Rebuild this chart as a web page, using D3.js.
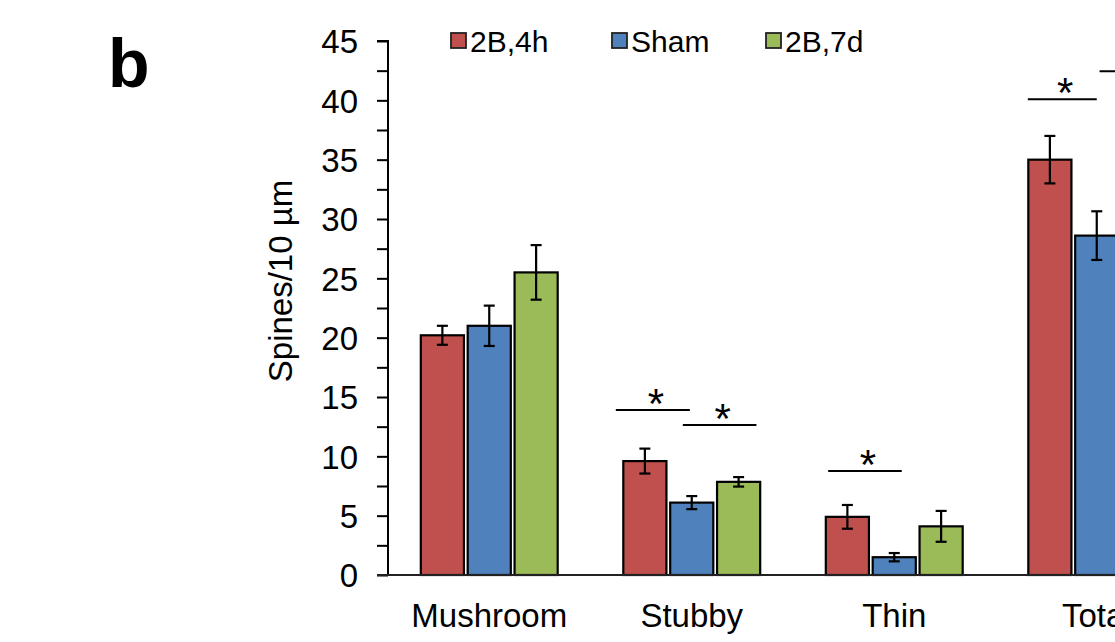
<!DOCTYPE html>
<html lang="en">
<head>
<meta charset="utf-8">
<title>Spines per 10 um</title>
<script src="https://d3js.org/d3.v7.min.js"></script>
<style>
  body { margin: 0; background: #fff; }
  text { font-family: "Liberation Sans", Arial, sans-serif; fill: #000; }
</style>
</head>
<body>
<div id="chart"></div>
<script>
// data
var categories = ["Mushroom", "Stubby", "Thin", "Total"]
var seriesNames = ["2B,4h", "Sham", "2B,7d"]
var seriesColors = ["#C0504D", "#4F81BD", "#9BBB59"]
var red4h = [20.2, 9.6, 4.9, 35.0]
var red4hErr = [0.8, 1.05, 1.0, 2.0]
var sham = [21.0, 6.1, 1.5, 28.6]
var shamErr = [1.7, 0.55, 0.35, 2.05]
var green7d = [25.5, 7.85, 4.1, 37.4]
var green7dErr = [2.3, 0.4, 1.3, 2.2]
var yTicks = [0, 5, 10, 15, 20, 25, 30, 35, 40, 45]

// significance bars: category, start/end (in bar slots, 0 = first bar), level
var sigCat = ["Stubby", "Stubby", "Thin", "Total", "Total"]
var sigFrom = [-0.62, 0.81, -0.41, -0.47, 1.06]
var sigTo = [0.96, 2.38, 1.16, 1.0, 2.6]
var sigLevel = [13.9, 12.64, 8.76, 40.1, 42.45]
var sigStar = [true, true, true, true, false]

var w = 1115
var h = 642
var plotLeft = 388
var bandW = 202.5
var plotTop = 41
var plotBottom = 575

var svg = d3.select("#chart").append("svg")
  .attr("width", w)
  .attr("height", h)

var x0 = d3.scaleBand()
  .domain(categories)
  .range([plotLeft, plotLeft + bandW * categories.length])

var x1 = d3.scaleBand()
  .domain(d3.range(seriesNames.length))
  .range([0, x0.bandwidth()])
  .paddingInner(0.08)
  .paddingOuter(0.7)

var y = d3.scaleLinear()
  .domain([0, 45])
  .range([plotBottom, plotTop])

var values = [red4h, sham, green7d]
var errs = [red4hErr, shamErr, green7dErr]

var rows = []
categories.forEach(function(c, ci) {
  seriesNames.forEach(function(s, si) {
    rows.push({cat: c, s: si, v: values[si][ci], e: errs[si][ci]})
  })
})

// panel letter
svg.append("text")
  .attr("x", 108)
  .attr("y", 87)
  .style("font-size", "68px")
  .style("font-weight", "bold")
  .text("b")

// y axis with minor ticks
var yAxis = d3.axisLeft(y)
  .tickValues(d3.range(0, 45.01, 2.5))
  .tickSize(11)
  .tickPadding(19)
  .tickFormat(function(d) { return yTicks.indexOf(d) >= 0 ? d : "" })

var gy = svg.append("g")
  .attr("transform", "translate(" + plotLeft + ",0)")
  .call(yAxis)
gy.select(".domain").attr("stroke", "#000").attr("stroke-width", 2)
  .attr("d", "M-11," + y(45) + "H0V" + y(0))
gy.selectAll(".tick line").attr("stroke", "#000").attr("stroke-width", 2)
gy.selectAll(".tick text")
  .style("font-size", "33px")
  .attr("dy", "0.36em")

svg.append("text")
  .attr("transform", "translate(292,281) rotate(-90)")
  .attr("text-anchor", "middle")
  .style("font-size", "33px")
  .text("Spines/10 \u00b5m")

// bars
svg.append("g").selectAll("rect")
  .data(rows)
  .enter()
  .append("rect")
  .attr("x", function(d) { return x0(d.cat) + x1(d.s) })
  .attr("y", function(d) { return y(d.v) })
  .attr("width", x1.bandwidth())
  .attr("height", function(d) { return y(0) - y(d.v) })
  .attr("fill", function(d) { return seriesColors[d.s] })
  .attr("stroke", "#000")
  .attr("stroke-width", 2.2)

// error bars
var eb = svg.append("g").selectAll("g")
  .data(rows)
  .enter()
  .append("g")
  .attr("stroke", "#000")
  .attr("stroke-width", 2.2)
eb.append("line")
  .attr("x1", function(d) { return x0(d.cat) + x1(d.s) + x1.bandwidth() / 2 })
  .attr("x2", function(d) { return x0(d.cat) + x1(d.s) + x1.bandwidth() / 2 })
  .attr("y1", function(d) { return y(d.v + d.e) })
  .attr("y2", function(d) { return y(d.v - d.e) })
;[1, -1].forEach(function(sgn) {
  eb.append("line")
    .attr("x1", function(d) { return x0(d.cat) + x1(d.s) + x1.bandwidth() / 2 - 5.5 })
    .attr("x2", function(d) { return x0(d.cat) + x1(d.s) + x1.bandwidth() / 2 + 5.5 })
    .attr("y1", function(d) { return y(d.v + sgn * d.e) })
    .attr("y2", function(d) { return y(d.v + sgn * d.e) })
})

// x axis
svg.append("line")
  .attr("x1", plotLeft - 11)
  .attr("x2", w)
  .attr("y1", y(0))
  .attr("y2", y(0))
  .attr("stroke", "#222")
  .attr("stroke-width", 2)

svg.append("g").selectAll("text")
  .data(categories)
  .enter()
  .append("text")
  .attr("x", function(d) { return x0(d) + x0.bandwidth() / 2 })
  .attr("y", 627)
  .attr("text-anchor", "middle")
  .style("font-size", "33px")
  .text(function(d) { return d })

// significance lines
function slotX(cat, u) {
  return x0(cat) + x1(0) + x1.bandwidth() / 2 + u * x1.step()
}
sigCat.forEach(function(c, i) {
  var xa = slotX(c, sigFrom[i])
  var xb = slotX(c, sigTo[i])
  svg.append("line")
    .attr("x1", xa).attr("x2", xb)
    .attr("y1", y(sigLevel[i])).attr("y2", y(sigLevel[i]))
    .attr("stroke", "#000")
    .attr("stroke-width", 2)
  if (sigStar[i]) {
    svg.append("text")
      .attr("x", (xa + xb) / 2 + 3)
      .attr("y", y(sigLevel[i]) + 8)
      .attr("text-anchor", "middle")
      .style("font-size", "42px")
      .text("*")
  }
})

// legend
var legX = [451, 612, 766]
var leg = svg.append("g").selectAll("g")
  .data(seriesNames)
  .enter()
  .append("g")
  .attr("transform", function(d, i) { return "translate(" + legX[i] + ",33)" })
leg.append("rect")
  .attr("width", 15)
  .attr("height", 15)
  .attr("fill", function(d, i) { return seriesColors[i] })
  .attr("stroke", "#222")
  .attr("stroke-width", 1.8)
leg.append("text")
  .attr("x", 19)
  .attr("y", 18.5)
  .style("font-size", "30px")
  .text(function(d) { return d })
</script>
</body>
</html>
